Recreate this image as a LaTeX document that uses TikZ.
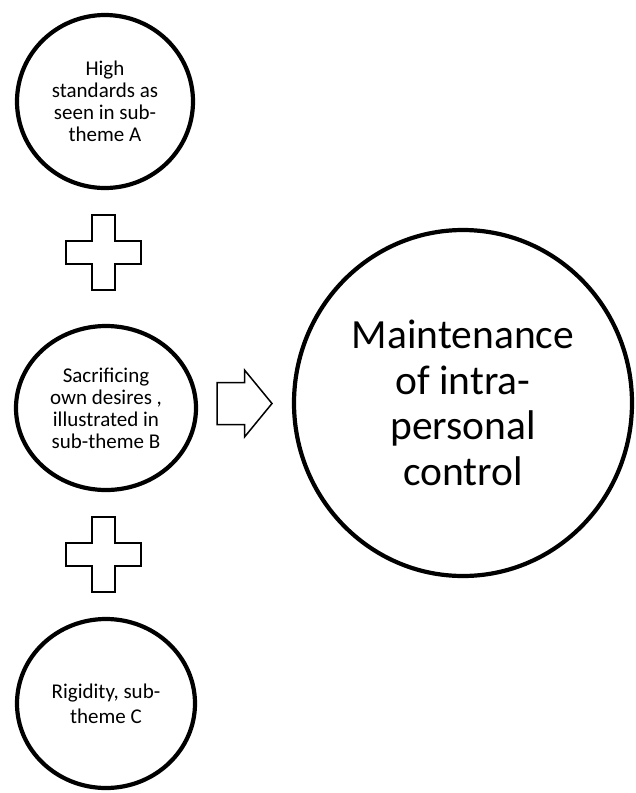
\documentclass[tikz,border=0pt]{standalone}
\usepackage{fontspec}
\setmainfont{Carlito}
\usetikzlibrary{shapes.geometric}
\begin{document}
\begin{tikzpicture}[x=1pt,y=-1pt,
  bubble/.style={ellipse,draw=black,line width=4.2pt,fill=white,inner sep=0pt,align=center,
    font=\fontsize{21}{22}\selectfont},
  bigbubble/.style={ellipse,draw=black,line width=4.2pt,fill=white,inner sep=0pt,align=center,
    font=\fontsize{41.5}{45.5}\selectfont},
  blockshape/.style={draw=black,line width=1.5pt,fill=white,line join=miter}]
\useasboundingbox (0,0) rectangle (635,793);
\node[bubble,minimum width=176pt,minimum height=173pt] (a) at (105,101.5)
  {High\\standards as\\seen in sub-\\theme A};
\node[bubble,minimum width=180pt,minimum height=164pt] (b) at (106,408)
  {Sacrificing\\own desires ,\\illustrated in\\sub-theme B};
\node[bubble,minimum width=178pt,minimum height=169pt,font=\fontsize{21}{25}\selectfont] (c) at (106,703.5)
  {Rigidity, sub-\\theme C};
\node[bigbubble,minimum width=338pt,minimum height=346pt] (m) at (463,403)
  {Maintenance\\of intra-\\personal\\control};
% plus signs
\coordinate (p1) at (103.5,252.5);
\coordinate (p2) at (103.5,554.5);
\foreach \p in {p1,p2}{
  \draw[blockshape] ([shift={(-11.5,-37.5)}]\p) -- ([shift={(11.5,-37.5)}]\p)
    -- ([shift={(11.5,-11.5)}]\p) -- ([shift={(37.5,-11.5)}]\p)
    -- ([shift={(37.5,11.5)}]\p) -- ([shift={(11.5,11.5)}]\p)
    -- ([shift={(11.5,37.5)}]\p) -- ([shift={(-11.5,37.5)}]\p)
    -- ([shift={(-11.5,11.5)}]\p) -- ([shift={(-37.5,11.5)}]\p)
    -- ([shift={(-37.5,-11.5)}]\p) -- ([shift={(-11.5,-11.5)}]\p) -- cycle;
}
% block arrow
\coordinate (ar) at (244.5,403.5);
\draw[blockshape] ([shift={(-27.5,-21)}]ar) -- ([shift={(0,-21)}]ar)
  -- ([shift={(0,-33.5)}]ar) -- ([shift={(27.5,0)}]ar)
  -- ([shift={(0,33.5)}]ar) -- ([shift={(0,21)}]ar)
  -- ([shift={(-27.5,21)}]ar) -- cycle;
\end{tikzpicture}
\end{document}
